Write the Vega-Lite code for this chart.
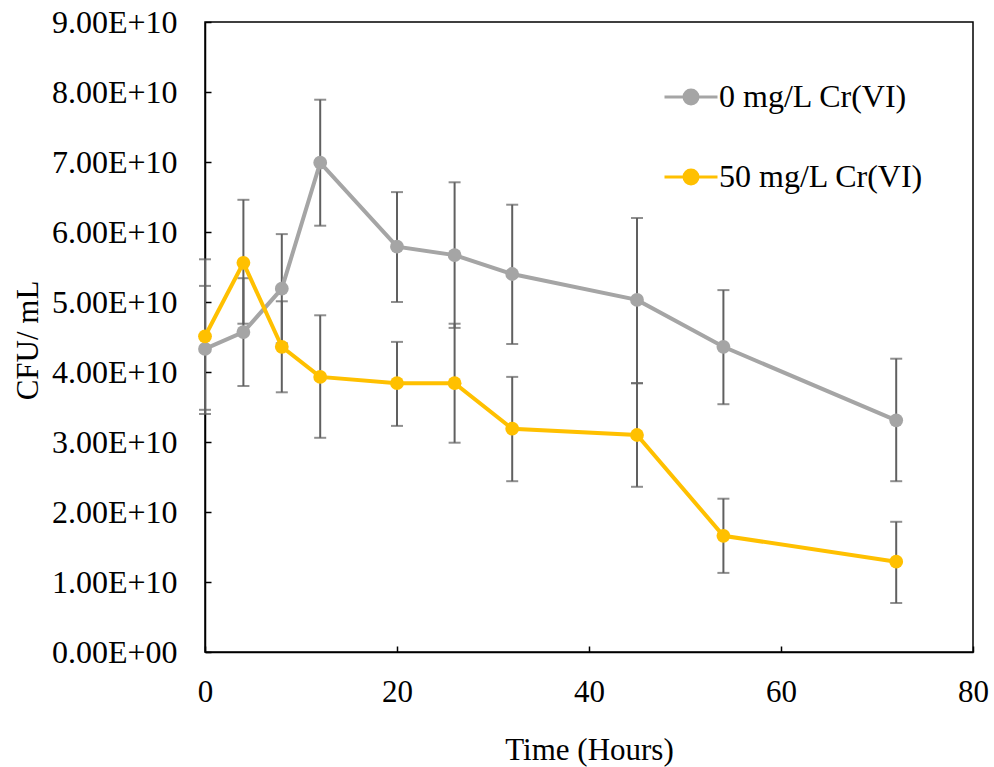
{
  "$schema": "https://vega.github.io/schema/vega-lite/v6.json",
  "width": 768,
  "height": 630,
  "autosize": "none",
  "padding": {"left": 205, "top": 22, "right": 21, "bottom": 115},
  "background": "white",
  "config": {
    "view": {"stroke": "#000000", "strokeWidth": 1.5},
    "font": "Liberation Serif",
    "axis": {
      "grid": false,
      "domainColor": "#000000",
      "domainWidth": 1.5,
      "tickColor": "#000000",
      "tickWidth": 1.5,
      "tickSize": -6,
      "labelFlush": false,
      "labelFont": "Liberation Serif",
      "labelColor": "#000000",
      "titleFont": "Liberation Serif",
      "titleColor": "#000000",
      "titleFontWeight": "normal"
    }
  },
  "data": {
    "values": [
      {"t": 0, "group": "0 mg/L Cr(VI)", "mean": 4.33e10, "lo": 3.40e10, "hi": 5.61e10},
      {"t": 4, "group": "0 mg/L Cr(VI)", "mean": 4.57e10, "lo": 3.80e10, "hi": 5.34e10},
      {"t": 8, "group": "0 mg/L Cr(VI)", "mean": 5.19e10, "lo": 4.41e10, "hi": 5.97e10},
      {"t": 12, "group": "0 mg/L Cr(VI)", "mean": 6.99e10, "lo": 6.09e10, "hi": 7.89e10},
      {"t": 20, "group": "0 mg/L Cr(VI)", "mean": 5.79e10, "lo": 5.00e10, "hi": 6.57e10},
      {"t": 26, "group": "0 mg/L Cr(VI)", "mean": 5.67e10, "lo": 4.63e10, "hi": 6.71e10},
      {"t": 32, "group": "0 mg/L Cr(VI)", "mean": 5.40e10, "lo": 4.40e10, "hi": 6.39e10},
      {"t": 45, "group": "0 mg/L Cr(VI)", "mean": 5.03e10, "lo": 3.84e10, "hi": 6.20e10},
      {"t": 54, "group": "0 mg/L Cr(VI)", "mean": 4.36e10, "lo": 3.54e10, "hi": 5.17e10},
      {"t": 72, "group": "0 mg/L Cr(VI)", "mean": 3.31e10, "lo": 2.44e10, "hi": 4.19e10},
      {"t": 0, "group": "50 mg/L Cr(VI)", "mean": 4.51e10, "lo": 3.46e10, "hi": 5.23e10},
      {"t": 4, "group": "50 mg/L Cr(VI)", "mean": 5.56e10, "lo": 4.69e10, "hi": 6.46e10},
      {"t": 8, "group": "50 mg/L Cr(VI)", "mean": 4.36e10, "lo": 3.71e10, "hi": 5.01e10},
      {"t": 12, "group": "50 mg/L Cr(VI)", "mean": 3.93e10, "lo": 3.06e10, "hi": 4.81e10},
      {"t": 20, "group": "50 mg/L Cr(VI)", "mean": 3.84e10, "lo": 3.23e10, "hi": 4.43e10},
      {"t": 26, "group": "50 mg/L Cr(VI)", "mean": 3.84e10, "lo": 2.99e10, "hi": 4.69e10},
      {"t": 32, "group": "50 mg/L Cr(VI)", "mean": 3.19e10, "lo": 2.44e10, "hi": 3.93e10},
      {"t": 45, "group": "50 mg/L Cr(VI)", "mean": 3.10e10, "lo": 2.36e10, "hi": 3.84e10},
      {"t": 54, "group": "50 mg/L Cr(VI)", "mean": 1.66e10, "lo": 1.13e10, "hi": 2.19e10},
      {"t": 72, "group": "50 mg/L Cr(VI)", "mean": 1.29e10, "lo": 0.70e10, "hi": 1.86e10}
    ]
  },
  "encoding": {
    "x": {
      "field": "t",
      "type": "quantitative",
      "scale": {"domain": [0, 80], "nice": false, "zero": false},
      "axis": {
        "title": "Time (Hours)",
        "values": [0, 20, 40, 60, 80],
        "labelFontSize": 31,
        "labelPadding": 31,
        "titleFontSize": 31,
        "titleBaseline": "middle",
        "titleX": 384,
        "titleY": 98
      }
    }
  },
  "layer": [
    {
      "mark": {"type": "rule", "color": "#606060", "strokeWidth": 2},
      "encoding": {
        "y": {"field": "lo", "type": "quantitative"},
        "y2": {"field": "hi"}
      }
    },
    {
      "mark": {"type": "tick", "orient": "horizontal", "color": "#606060", "size": 12, "thickness": 2},
      "encoding": {
        "y": {"field": "lo", "type": "quantitative"}
      }
    },
    {
      "mark": {"type": "tick", "orient": "horizontal", "color": "#606060", "size": 12, "thickness": 2},
      "encoding": {
        "y": {"field": "hi", "type": "quantitative"}
      }
    },
    {
      "mark": {"type": "line", "strokeWidth": 4},
      "encoding": {
        "y": {"field": "mean", "type": "quantitative"},
        "color": {"field": "group", "type": "nominal",
          "scale": {"domain": ["0 mg/L Cr(VI)", "50 mg/L Cr(VI)"], "range": ["#A5A5A5", "#FFC000"]}}
      }
    },
    {
      "mark": {"type": "point", "filled": true, "opacity": 1, "size": 190},
      "encoding": {
        "y": {
          "field": "mean",
          "type": "quantitative",
          "scale": {"domain": [0, 9e10], "nice": false},
          "axis": {
            "title": "CFU/ mL",
            "values": [0, 1e10, 2e10, 3e10, 4e10, 5e10, 6e10, 7e10, 8e10, 9e10],
            "labelExpr": "datum.value == 0 ? '0.00E+00' : replace(format(datum.value, '.2e'), 'e', 'E')",
            "labelFontSize": 32,
            "labelPadding": 34,
            "titleFontSize": 31,
            "titleBaseline": "middle",
            "titleAngle": -90,
            "titleX": -177,
            "titleY": 318
          }
        },
        "color": {
          "field": "group",
          "type": "nominal",
          "scale": {"domain": ["0 mg/L Cr(VI)", "50 mg/L Cr(VI)"], "range": ["#A5A5A5", "#FFC000"]},
          "legend": {
            "title": null,
            "orient": "none",
            "legendX": 458,
            "legendY": 47,
            "padding": 0,
            "symbolType": "M-1,0H1M-0.264,0A0.264,0.264 0 1,0 0.264,0A0.264,0.264 0 1,0 -0.264,0Z",
            "symbolSize": 2809,
            "symbolStrokeWidth": 3,
            "labelFontSize": 32,
            "labelFont": "Liberation Serif",
            "labelColor": "#000000",
            "labelOffset": 0,
            "rowPadding": 36,
            "labelLimit": 400,
            "encode": {
              "symbols": {
                "update": {
                  "fill": {"scale": "color", "field": "value"},
                  "stroke": {"scale": "color", "field": "value"},
                  "opacity": {"value": 1}
                }
              }
            }
          }
        }
      }
    }
  ]
}
